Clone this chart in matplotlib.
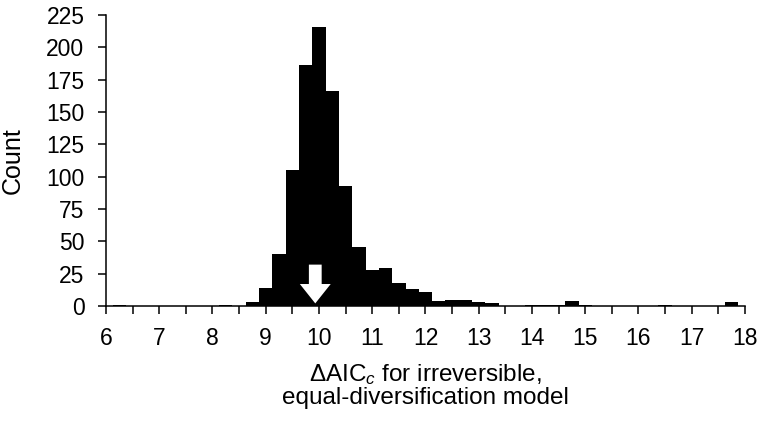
import numpy as np
import matplotlib
matplotlib.use("Agg")
import matplotlib.pyplot as plt

# ---- data ----
bin_start = 6.125
bin_width = 0.25
counts = [1, 0, 0, 0, 0, 0, 0, 0,        # 6.125 .. 8.125
          1, 0, 3, 14, 40, 105, 186, 216, # 8.125 .. 10.125
          166, 93, 46, 28, 29, 18, 13, 11, # 10.125 .. 12.125
          4, 5, 5, 3, 2, 0, 0, 1,          # 12.125 .. 14.125
          1, 1, 4, 1, 0, 0, 0, 0,          # 14.125 .. 16.125
          0, 1, 0, 0, 0, 0, 3, 0]          # 16.125 .. 18.125
observed_value = 9.93
y_ticks = list(range(0, 226, 25))
xlabel = "ΔAIC$_{\\mathit{c}}$ for irreversible,\nequal-diversification model"
ylabel = "Count"

edges = bin_start + bin_width * np.arange(len(counts) + 1)

plt.rcParams['font.family'] = ['Liberation Sans', 'DejaVu Sans']
plt.rcParams['mathtext.fontset'] = 'custom'
plt.rcParams['mathtext.rm'] = 'Liberation Sans'
plt.rcParams['mathtext.it'] = 'Liberation Sans:italic'

FS_TICK = 16.5
FS_LAB = 17.5
fig = plt.figure(figsize=(7.58, 4.24), dpi=100)
ax = fig.add_axes([106/758, 1-306/424, (745-106)/758, (306-15)/424])

ax.stairs(counts, edges, fill=True, color='black', linewidth=0)

# white arrow marking observed value
ax.arrow(observed_value, 32, 0, -30, width=0.24, head_width=0.58,
         head_length=15, length_includes_head=True,
         fc='white', ec='white', lw=0, zorder=3)

ax.set_xlim(6, 18)
ax.set_ylim(0, 225)
xt = np.arange(6, 18.01, 0.5)
ax.set_xticks(xt)
ax.set_xticklabels([str(int(t)) if float(t).is_integer() else '' for t in xt])
ax.set_yticks(y_ticks)
ax.tick_params(axis='both', direction='out', length=5.5, width=1.1, labelsize=FS_TICK, color='black')
ax.tick_params(axis='x', pad=9.5)
ax.tick_params(axis='y', pad=10)
for s in ['top', 'right']:
    ax.spines[s].set_visible(False)
for s in ['left', 'bottom']:
    ax.spines[s].set_linewidth(1.1)

ax.set_xlabel(xlabel, fontsize=FS_LAB, linespacing=1.03, labelpad=8.5)
ax.set_ylabel(ylabel, fontsize=18, va='center')
ax.yaxis.set_label_coords((12.5 - 106) / 639, 0.5)

fig.savefig("out.png", dpi=100)
